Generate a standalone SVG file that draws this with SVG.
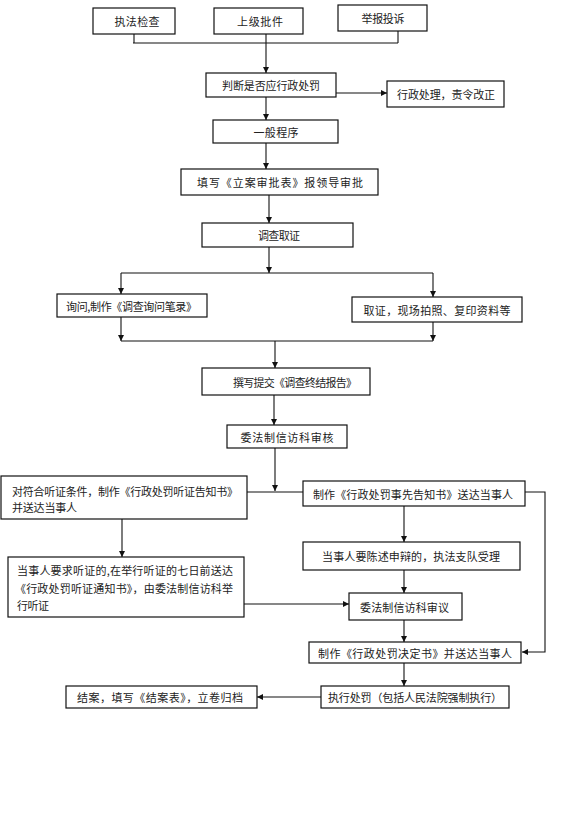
<svg xmlns="http://www.w3.org/2000/svg" width="576" height="826" viewBox="0 0 576 826">
<style>
.b{fill:#fff;stroke:#111;stroke-width:1.2}
.t{font-family:"Noto Sans CJK SC","Noto Sans",sans-serif;font-size:11px;fill:#222;text-anchor:middle;dominant-baseline:central}
.l{text-anchor:start}
.c{fill:none;stroke:#111;stroke-width:1.1}
</style>
<defs>
<marker id="a" markerUnits="userSpaceOnUse" markerWidth="7" markerHeight="7" refX="6" refY="3.5" orient="auto" viewBox="0 0 7 7">
<path d="M0,0.5 L6,3.5 L0,6.5 z" fill="#111"/>
</marker>
</defs>
<rect width="576" height="826" fill="#fff"/>
<g id="connectors">
<path class="c" d="M134,34 V43 M398,31 V43 M133,43 H398"/>
<path class="c" d="M266,34 V73" marker-end="url(#a)"/>
<path class="c" d="M336,93 H387" marker-end="url(#a)"/>
<path class="c" d="M266,97 V120" marker-end="url(#a)"/>
<path class="c" d="M266,143 V169" marker-end="url(#a)"/>
<path class="c" d="M269,195 V223" marker-end="url(#a)"/>
<path class="c" d="M269,247 V273" marker-end="url(#a)"/>
<path class="c" d="M121,273 H433"/>
<path class="c" d="M121,273 V294" marker-end="url(#a)"/>
<path class="c" d="M433,273 V297" marker-end="url(#a)"/>
<path class="c" d="M121,317 V341" marker-end="url(#a)"/>
<path class="c" d="M433,322 V341" marker-end="url(#a)"/>
<path class="c" d="M121,341 H433"/>
<path class="c" d="M275,341 V368" marker-end="url(#a)"/>
<path class="c" d="M274,395 V425" marker-end="url(#a)"/>
<path class="c" d="M275,448 V491" marker-end="url(#a)"/>
<path class="c" d="M247,492 H303"/>
<path class="c" d="M525,492 H545 V652 H522" marker-end="url(#a)"/>
<path class="c" d="M404,506 V542" marker-end="url(#a)"/>
<path class="c" d="M404,570 V593" marker-end="url(#a)"/>
<path class="c" d="M122,519 V557" marker-end="url(#a)"/>
<path class="c" d="M244,604 H349" marker-end="url(#a)"/>
<path class="c" d="M404,620 V642" marker-end="url(#a)"/>
<path class="c" d="M404,663 V686" marker-end="url(#a)"/>
<path class="c" d="M321,697 H257" marker-end="url(#a)"/>
</g>
<g id="n1"><rect class="b" x="93" y="8" width="82" height="26"/><text class="t" x="137" y="21" textLength="45">执法检查</text></g>
<g id="n2"><rect class="b" x="214" y="8" width="89" height="26"/><text class="t" x="260" y="21" textLength="46">上级批件</text></g>
<g id="n3"><rect class="b" x="338" y="5" width="89" height="26"/><text class="t" x="383" y="18" textLength="43">举报投诉</text></g>
<g id="n4"><rect class="b" x="206" y="73" width="130" height="24"/><text class="t" x="271" y="85" textLength="98">判断是否应行政处罚</text></g>
<g id="n5"><rect class="b" x="387" y="81" width="117" height="26"/><text class="t" x="446" y="94" textLength="98">行政处理，责令改正</text></g>
<g id="n6"><rect class="b" x="213" y="120" width="125" height="23"/><text class="t" x="276" y="131.5" textLength="45">一般程序</text></g>
<g id="n7"><rect class="b" x="181" y="169" width="197" height="26"/><text class="t" x="280" y="182" textLength="166">填写《立案审批表》报领导审批</text></g>
<g id="n8"><rect class="b" x="202" y="223" width="151" height="24"/><text class="t" x="279" y="235" textLength="42">调查取证</text></g>
<g id="n9"><rect class="b" x="57" y="294" width="150" height="23"/><text class="t" x="131.5" y="305.5" textLength="131">询问,制作《调查询问笔录》</text></g>
<g id="n10"><rect class="b" x="352" y="297" width="170" height="25"/><text class="t" x="437" y="309.5" textLength="147">取证，现场拍照、复印资料等</text></g>
<g id="n11"><rect class="b" x="202" y="368" width="168" height="27"/><text class="t" x="295" y="381.5" textLength="124">撰写提交《调查终结报告》</text></g>
<g id="n12"><rect class="b" x="227" y="425" width="120" height="23"/><text class="t" x="287" y="436.5" textLength="93">委法制信访科审核</text></g>
<g id="n13"><rect class="b" x="1" y="476" width="246" height="43"/><text class="t l" x="12" y="491" textLength="226">对符合听证条件，制作《行政处罚听证告知书》</text><text class="t l" x="12" y="507" textLength="65">并送达当事人</text></g>
<g id="n14"><rect class="b" x="303" y="481" width="222" height="25"/><text class="t" x="413" y="493.5" textLength="200">制作《行政处罚事先告知书》送达当事人</text></g>
<g id="n15"><rect class="b" x="303" y="542" width="217" height="28"/><text class="t" x="411" y="556" textLength="178">当事人要陈述申辩的，执法支队受理</text></g>
<g id="n16"><rect class="b" x="8" y="557" width="236" height="60"/><text class="t l" x="17" y="570" textLength="216">当事人要求听证的,在举行听证的七日前送达</text><text class="t l" x="15" y="588" textLength="218">《行政处罚听证通知书》，由委法制信访科举</text><text class="t l" x="17" y="605" textLength="32">行听证</text></g>
<g id="n17"><rect class="b" x="349" y="593" width="113" height="27"/><text class="t" x="404.5" y="606.5" textLength="89">委法制信访科审议</text></g>
<g id="n18"><rect class="b" x="309" y="642" width="212" height="21"/><text class="t" x="415" y="652.5" textLength="194">制作《行政处罚决定书》并送达当事人</text></g>
<g id="n19"><rect class="b" x="321" y="686" width="188" height="22"/><text class="t" x="415" y="697" textLength="174">执行处罚（包括人民法院强制执行）</text></g>
<g id="n20"><rect class="b" x="66" y="686" width="191" height="22"/><text class="t" x="160" y="697" textLength="166">结案，填写《结案表》，立卷归档</text></g>
</svg>
